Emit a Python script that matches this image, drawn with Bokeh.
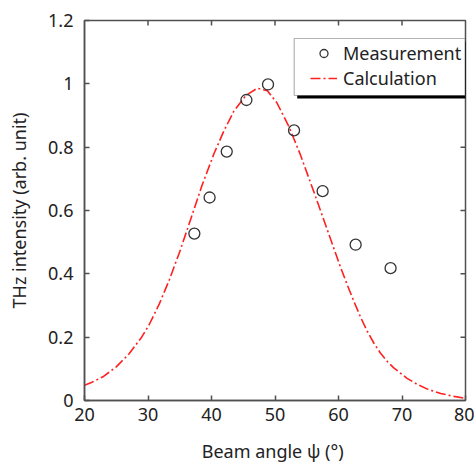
import math
from bokeh.plotting import figure
from bokeh.models import (FixedTicker, PrintfTickFormatter, Range1d,
                          BoxAnnotation, Legend, LegendItem)
from bokeh.embed import file_html
from bokeh.resources import INLINE

# ---- data ----
meas_x = [37.3, 39.7, 42.4, 45.5, 48.9, 53.0, 57.5, 62.7, 68.2]
meas_y = [0.527, 0.641, 0.786, 0.949, 0.998, 0.853, 0.661, 0.492, 0.418]

calc_x = [20.0, 21.0, 23.0, 25.0, 27.0, 29.0, 30.2, 31.8, 33.4, 35.0, 36.7, 38.5,
          40.4, 41.9, 43.5, 45.4, 47.2, 48.8, 50.3, 52.2, 54.0, 56.1, 58.2, 60.3,
          61.4, 62.4, 63.5, 64.5, 65.6, 66.6, 67.7, 68.7, 70.8, 72.4, 74.0, 76.1,
          78.2, 80.0]
calc_y = [0.048, 0.056, 0.076, 0.106, 0.147, 0.200, 0.240, 0.306, 0.383, 0.470, 0.571, 0.679,
          0.780, 0.849, 0.913, 0.963, 0.986, 0.978, 0.940, 0.865, 0.776, 0.660, 0.541, 0.422,
          0.364, 0.314, 0.262, 0.220, 0.180, 0.150, 0.123, 0.103, 0.070, 0.051, 0.036, 0.022,
          0.013, 0.007]

x_ticks = [20, 30, 40, 50, 60, 70, 80]
y_ticks = [0, 0.2, 0.4, 0.6, 0.8, 1.0, 1.2]

FONT = "Noto Sans"
AX_COL = "#505050"
TXT_COL = "#222222"

p = figure(width=474, height=470, output_backend="svg", toolbar_location=None,
           x_range=Range1d(x_ticks[0], x_ticks[-1]), y_range=Range1d(y_ticks[0], y_ticks[-1]),
           x_axis_label="Beam angle  ψ (°)", y_axis_label="THz intensity (arb. unit)",
           min_border_left=84, min_border_right=9, min_border_top=20, min_border_bottom=70)
p.grid.visible = False
p.outline_line_color = AX_COL
p.outline_line_width = 1.5
p.outline_line_alpha = 1.0
p.background_fill_color = "white"
p.border_fill_color = "white"

for ax, ticks in ((p.xaxis[0], x_ticks), (p.yaxis[0], y_ticks)):
    ax.ticker = FixedTicker(ticks=ticks)
    ax.formatter = PrintfTickFormatter(format="%g")
    ax.major_tick_in = 5
    ax.major_tick_out = 0
    ax.minor_tick_line_color = None
    ax.axis_line_color = AX_COL
    ax.axis_line_width = 1.5
    ax.major_tick_line_color = AX_COL
    ax.major_tick_line_width = 1.5
    ax.major_label_text_font = FONT
    ax.major_label_text_font_size = "18px"
    ax.major_label_text_color = TXT_COL
    ax.axis_label_text_font = FONT
    ax.axis_label_text_font_size = "18px"
    ax.axis_label_text_font_style = "normal"
    ax.axis_label_text_color = TXT_COL
p.xaxis.major_label_standoff = 7
p.xaxis.axis_label_standoff = 15
p.yaxis.major_label_standoff = 11
p.yaxis.axis_label_standoff = 14

# inward ticks on the top and right edges of the frame
p.ray(x=x_ticks[1:-1], y=[y_ticks[-1]] * (len(x_ticks) - 2), length=5, length_units="screen",
      angle=-math.pi / 2, line_color=AX_COL, line_width=1.5)
p.ray(x=[x_ticks[-1]] * (len(y_ticks) - 2), y=y_ticks[1:-1], length=5, length_units="screen",
      angle=math.pi, line_color=AX_COL, line_width=1.5)

calc = p.line(calc_x, calc_y, line_color="#ff2020", line_width=1.6, line_dash="10 3 2 3")
meas = p.scatter(meas_x, meas_y, marker="circle", size=11, fill_color=None,
                 line_color="#333333", line_width=1.3)

# legend frame with drop shadow (screen units relative to the plot frame)
shadow = BoxAnnotation(left=212.7, right=392.2, top=359, bottom=302,
                       left_units="screen", right_units="screen",
                       top_units="screen", bottom_units="screen",
                       fill_color="black", fill_alpha=1.0, line_color=None)
box = BoxAnnotation(left=209.7, right=380.5, top=362, bottom=305,
                    left_units="screen", right_units="screen",
                    top_units="screen", bottom_units="screen",
                    fill_color="white", fill_alpha=1.0, line_color="black", line_width=1.2)
p.add_layout(shadow)
p.add_layout(box)

legend = Legend(items=[LegendItem(label="Measurement", renderers=[meas]),
                       LegendItem(label="Calculation", renderers=[calc])],
                location=(226, 309.6), padding=0, margin=0, spacing=1,
                glyph_width=27, glyph_height=20, label_height=20, label_standoff=6,
                border_line_color=None, background_fill_alpha=0,
                label_text_font=FONT, label_text_font_size="18px", label_text_color=TXT_COL)
p.add_layout(legend, "center")

open("out.html", "w").write(file_html(p, INLINE))
